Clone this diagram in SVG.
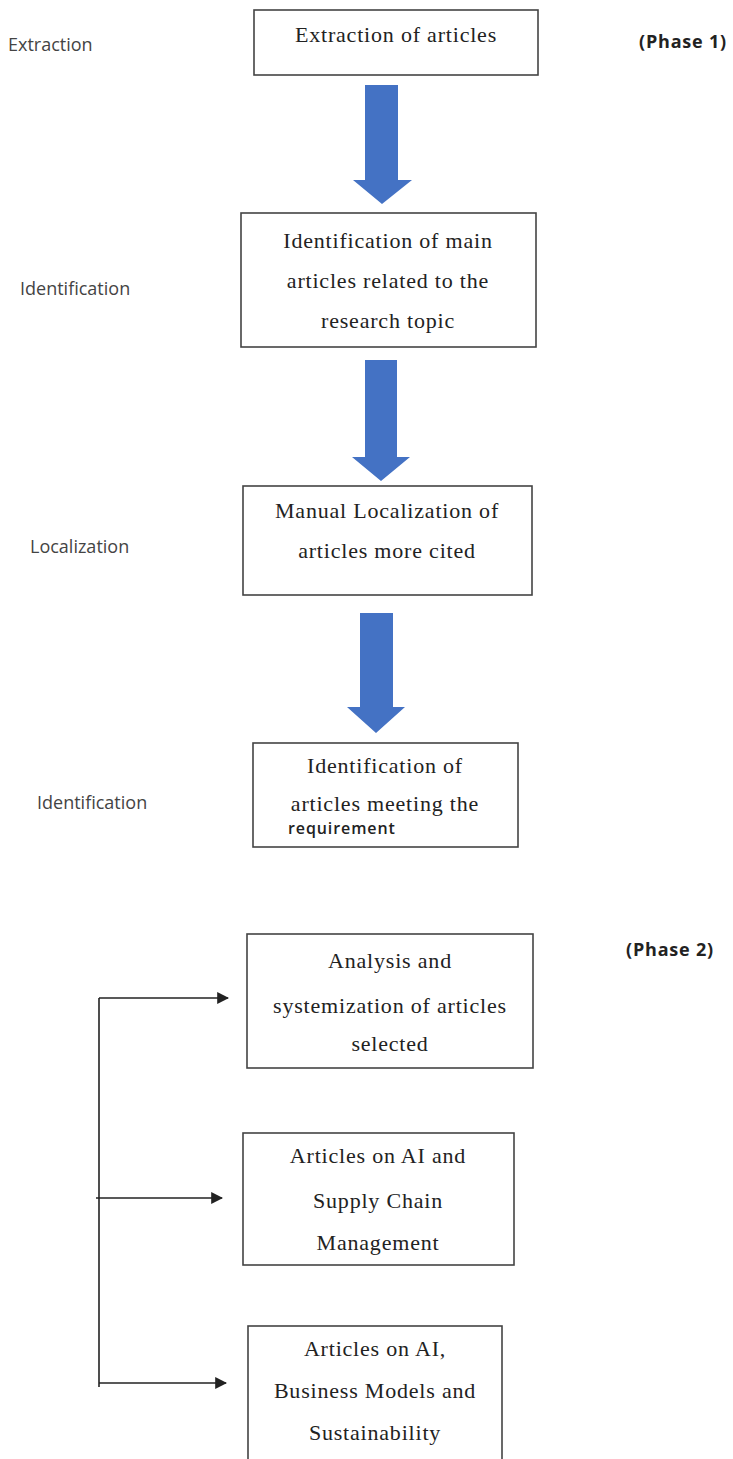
<svg xmlns="http://www.w3.org/2000/svg" width="733" height="1459" viewBox="0 0 733 1459">
<style>
.box{fill:#fff;stroke:#444;stroke-width:1.6}
.t{font-family:"Liberation Serif",serif;font-size:22px;letter-spacing:0.8px;fill:#222;text-anchor:middle}
.s{font-family:"Open Sans","DejaVu Sans",sans-serif;font-size:18px;fill:#444}
.p{font-family:"Open Sans","DejaVu Sans",sans-serif;font-size:18px;font-weight:bold;letter-spacing:0.8px;fill:#222}
.ba{fill:#4472C4}
.ln{stroke:#222;stroke-width:1.6;fill:none}
</style>
<defs>
<marker id="ah" viewBox="0 0 10 10" refX="9" refY="5" markerWidth="12" markerHeight="12" markerUnits="userSpaceOnUse" orient="auto">
<path d="M0,0 L10,5 L0,10 z" fill="#222"/>
</marker>
</defs>
<rect width="733" height="1459" fill="#fff"/>
<g id="labels">
<text class="s" x="8" y="51">Extraction</text>
<text class="s" x="20" y="295">Identification</text>
<text class="s" x="30" y="553">Localization</text>
<text class="s" x="37" y="809">Identification</text>
<text class="p" x="639" y="48">(Phase 1)</text>
<text class="p" x="626" y="956">(Phase 2)</text>
</g>
<g id="n1"><rect class="box" x="254" y="10" width="284" height="65"/><text class="t" x="396" y="42">Extraction of articles</text></g>
<g id="n2"><rect class="box" x="241" y="213" width="295" height="134"/>
<text class="t" x="388" y="248">Identification of main</text>
<text class="t" x="388" y="288">articles related to the</text>
<text class="t" x="388" y="328">research topic</text></g>
<g id="n3"><rect class="box" x="243" y="486" width="289" height="109"/>
<text class="t" x="387" y="518">Manual Localization of</text>
<text class="t" x="387" y="558">articles more cited</text></g>
<g id="n4"><rect class="box" x="253" y="743" width="265" height="104"/>
<text class="t" x="385" y="773">Identification of</text>
<text class="t" x="385" y="811">articles meeting the</text>
<text x="288" y="834" style="font-family:'Open Sans','DejaVu Sans',sans-serif;font-size:16px;font-weight:600;letter-spacing:0.9px;fill:#222">requirement</text></g>
<g id="n5"><rect class="box" x="247" y="934" width="286" height="134"/>
<text class="t" x="390" y="968">Analysis and</text>
<text class="t" x="390" y="1013">systemization of articles</text>
<text class="t" x="390" y="1051">selected</text></g>
<g id="n6"><rect class="box" x="243" y="1133" width="271" height="132"/>
<text class="t" x="378" y="1163">Articles on AI and</text>
<text class="t" x="378" y="1208">Supply Chain</text>
<text class="t" x="378" y="1250">Management</text></g>
<g id="n7"><rect class="box" x="248" y="1326" width="254" height="140"/>
<text class="t" x="375" y="1356">Articles on AI,</text>
<text class="t" x="375" y="1398">Business Models and</text>
<text class="t" x="375" y="1440">Sustainability</text></g>
<g id="connectors">
<path class="ba" d="M365,85 H398 V180 H412 L382,204 L353,180 H365 Z"/>
<path class="ba" d="M365,360 H397 V457 H410 L381,481 L352,457 H365 Z"/>
<path class="ba" d="M360,613 H393 V707 H405 L376,733 L347,707 H360 Z"/>
<path class="ln" d="M99,998 V1387"/>
<path class="ln" d="M99,998 H228" marker-end="url(#ah)"/>
<path class="ln" d="M96,1198 H222" marker-end="url(#ah)"/>
<path class="ln" d="M99,1383 H226" marker-end="url(#ah)"/>
</g>
</svg>
